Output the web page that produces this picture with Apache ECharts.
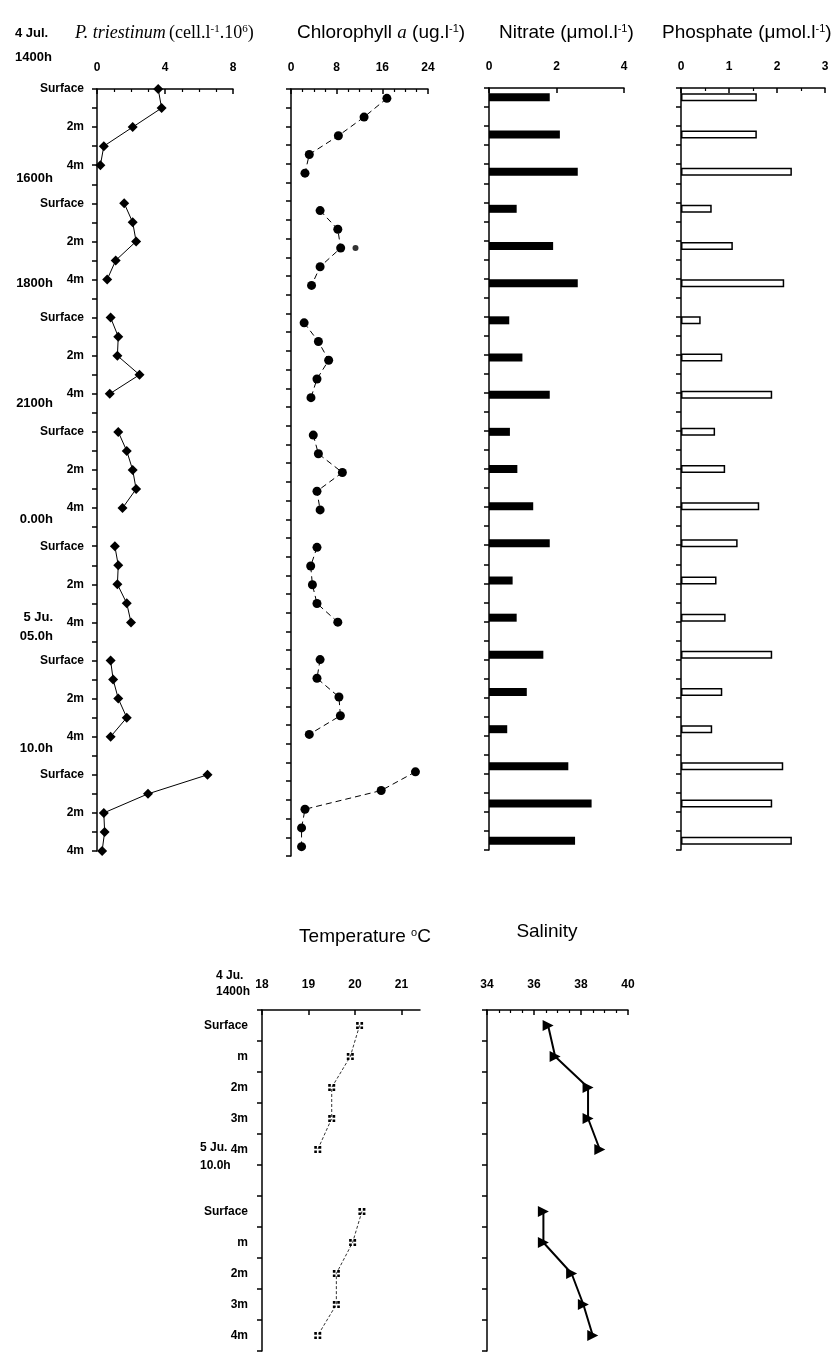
<!DOCTYPE html>
<html><head><meta charset="utf-8">
<script src="https://cdn.jsdelivr.net/npm/echarts@6/dist/echarts.min.js"></script>
<style>html,body{margin:0;padding:0;background:#fff}#c{width:833px;height:1352px}</style>
</head><body><div id="c"></div>
<script>
// ---------- DATA ----------
const depthLabelsTop = ['Surface', '', '2m', '', '4m'];
const depthLabelsBottom = ['Surface', 'm', '2m', '3m', '4m'];
const timeLabelsTop = ['1600h', '1800h', '2100h', '0.00h', '5 Ju.|05.0h', '10.0h'];
// 7 sampling times x 5 depths (Surface, 1m, 2m, 3m, 4m)
const pTriestinum = [3.6, 3.8, 2.1, 0.4, 0.2,
  1.6, 2.1, 2.3, 1.1, 0.6,
  0.8, 1.25, 1.2, 2.5, 0.75,
  1.25, 1.75, 2.1, 2.3, 1.5,
  1.05, 1.25, 1.2, 1.75, 2.0,
  0.8, 0.95, 1.25, 1.75, 0.8,
  6.5, 3.0, 0.4, 0.45, 0.3];
const chlorophyll = [16.8, 12.8, 8.3, 3.2, 2.45,
  5.1, 8.2, 8.7, 5.1, 3.6,
  2.3, 4.8, 6.6, 4.55, 3.5,
  3.9, 4.8, 9.0, 4.55, 5.1,
  4.55, 3.45, 3.75, 4.55, 8.2,
  5.1, 4.55, 8.4, 8.65, 3.2,
  21.8, 15.8, 2.45, 1.85, 1.85];
const chlorophyllExtra = [[11.3, 8]]; // small extra dot (value, slot)
// 7 sampling times x 3 depths (Surface, 2m, 4m)
const nitrate = [1.8, 2.1, 2.63,
  0.82, 1.9, 2.63,
  0.6, 0.99, 1.8,
  0.62, 0.84, 1.31,
  1.8, 0.7, 0.82,
  1.61, 1.12, 0.54,
  2.35, 3.04, 2.55];
const phosphate = [1.58, 1.58, 2.31,
  0.64, 1.08, 2.15,
  0.41, 0.86, 1.9,
  0.71, 0.92, 1.63,
  1.18, 0.74, 0.93,
  1.9, 0.86, 0.65,
  2.13, 1.9, 2.31];
// 2 sampling times x 5 depths
const temperature = [20.1, 19.9, 19.5, 19.5, 19.2,
  20.15, 19.95, 19.6, 19.6, 19.2];
const salinity = [36.6, 36.9, 38.3, 38.3, 38.8,
  36.4, 36.4, 37.6, 38.1, 38.5];

// ---------- BUILD ----------
const NG = 7, ND = 5;
const topLabels = [];
for (let g = 0; g < NG; g++) {
  for (let d = 0; d < ND; d++) topLabels.push(depthLabelsTop[d]);
  if (g < NG - 1) topLabels.push('');
}
const topCats = topLabels.map((_, i) => 'c' + i);
function expand5(arr, groups) {
  const out = [];
  for (let g = 0; g < groups; g++) {
    for (let d = 0; d < ND; d++) out.push(arr[g * ND + d]);
    if (g < groups - 1) out.push(null);
  }
  return out;
}
function expand3(arr) {
  const out = new Array(topCats.length).fill(null);
  for (let g = 0; g < NG; g++) for (let k = 0; k < 3; k++) out[g * 6 + k * 2] = arr[g * 3 + k];
  return out;
}
const botLabels = [...depthLabelsBottom, '', ...depthLabelsBottom];
const botCats = botLabels.map((_, i) => 'b' + i);

const FONT = '"Liberation Sans", Arial, sans-serif';
const black = '#000';
const axLine = { show: true, lineStyle: { color: black, width: 1.5 } };
const tickLbl = { color: black, fontWeight: 'bold', fontSize: 12, fontFamily: FONT };

function xAx(grid, min, max, interval, minorSplit, margin) {
  return {
    gridIndex: grid, type: 'value', position: 'top', min: min, max: max, interval: interval,
    axisLine: axLine, splitLine: { show: false },
    axisTick: { show: true, inside: true, length: 5, lineStyle: { color: black, width: 1.5 } },
    minorTick: { show: minorSplit > 0, splitNumber: minorSplit || 5, length: 3, lineStyle: { color: black, width: 1.2 } },
    axisLabel: Object.assign({ margin: margin || 15, showMaxLabel: (max - min) % interval === 0 ? null : false }, tickLbl)
  };
}
function yAx(grid, cats, labels, gap, show, labelMargin) {
  return {
    gridIndex: grid, type: 'category', inverse: true, boundaryGap: gap, data: cats, show: show !== false,
    axisLine: axLine,
    axisTick: { show: true, interval: 0, length: 5, lineStyle: { color: black, width: 1.5 } },
    axisLabel: labels ? Object.assign({ interval: 0, margin: labelMargin || 13, formatter: (v, i) => labels[i] }, tickLbl) : { show: false }
  };
}

const option = {
  animation: false,
  backgroundColor: '#fff',
  grid: [
    { left: 97, top: 89, width: 136, height: 762 },
    { left: 291, top: 89, width: 137, height: 767 },
    { left: 489, top: 88, width: 135, height: 762 },
    { left: 681, top: 88, width: 144, height: 762 },
    { left: 262, top: 1010, width: 158, height: 341 },
    { left: 487, top: 1010, width: 141, height: 341 }
  ],
  xAxis: [
    xAx(0, 0, 8, 4, 4),
    xAx(1, 0, 24, 8, 4),
    xAx(2, 0, 4, 2, 0),
    xAx(3, 0, 3, 1, 2),
    xAx(4, 18, 21.4, 1, 0, 19),
    xAx(5, 34, 40, 2, 4, 19)
  ],
  yAxis: [
    yAx(0, topCats, topLabels, false),
    yAx(1, topCats, null, true),
    yAx(2, topCats, null, false),
    yAx(2, topCats, null, true, false),
    yAx(3, topCats, null, false),
    yAx(3, topCats, null, true, false),
    yAx(4, botCats, botLabels, true, true, 14),
    yAx(5, botCats, null, true)
  ],
  series: [
    { type: 'line', xAxisIndex: 0, yAxisIndex: 0, data: expand5(pTriestinum, NG), connectNulls: false,
      symbol: 'diamond', symbolSize: 10, itemStyle: { color: black }, lineStyle: { color: black, width: 1 } },
    { type: 'line', xAxisIndex: 1, yAxisIndex: 1, data: expand5(chlorophyll, NG), connectNulls: false,
      symbol: 'circle', symbolSize: 9, itemStyle: { color: black }, lineStyle: { color: black, width: 1, type: [6, 4] } },
    { type: 'scatter', xAxisIndex: 1, yAxisIndex: 1, data: chlorophyllExtra, symbol: 'circle', symbolSize: 6, itemStyle: { color: black } },
    { type: 'bar', xAxisIndex: 2, yAxisIndex: 3, data: expand3(nitrate), barWidth: 8, itemStyle: { color: black } },
    { type: 'bar', xAxisIndex: 3, yAxisIndex: 5, data: expand3(phosphate), barWidth: 8,
      itemStyle: { color: '#fff', borderColor: black, borderWidth: 1.5 } },
    { type: 'line', xAxisIndex: 4, yAxisIndex: 6, data: expand5(temperature, 2), connectNulls: false,
      symbol: 'path://M0,0h3v3h-3z M5,0h3v3h-3z M0,5h3v3h-3z M5,5h3v3h-3z', symbolSize: 7,
      itemStyle: { color: black }, lineStyle: { color: '#333', width: 1, type: [3, 2] } },
    { type: 'line', xAxisIndex: 5, yAxisIndex: 7, data: expand5(salinity, 2), connectNulls: false,
      symbol: 'triangle', symbolRotate: -90, symbolSize: 11, itemStyle: { color: black }, lineStyle: { color: black, width: 2 } }
  ]
};

const chart = echarts.init(document.getElementById('c'));
chart.setOption(option);

// ---------- TEXT ANNOTATIONS ----------
const sans = FONT;
const txt = (x, y, text, extra) => ({ type: 'text', x: x, y: y, style: Object.assign({ text: text, fill: black, font: 'bold 13px ' + sans, textVerticalAlign: 'middle' }, extra || {}) });
const richTitle = (x, y, parts, align, size) => {
  const fs = size || 19, ss = Math.round(fs * 0.6);
  return { type: 'text', x: x, y: y, style: {
    text: parts, fill: black, textVerticalAlign: 'middle', textAlign: align || 'left',
    rich: {
      m: { fontSize: fs, fontFamily: sans, color: black },
      s: { fontSize: ss, fontFamily: sans, color: black, verticalAlign: 'top', padding: [0, 0, 8, 0] },
      i: { fontSize: fs, fontFamily: '"Liberation Serif", serif', fontStyle: 'italic', color: black },
      r: { fontSize: fs, fontFamily: '"Liberation Serif", serif', color: black },
      rs: { fontSize: ss, fontFamily: '"Liberation Serif", serif', color: black, verticalAlign: 'top', padding: [0, 0, 8, 0] }
    } } };
};

const py = i => chart.convertToPixel({ yAxisIndex: 0 }, i);
const step = py(1) - py(0);
const g = [];
g.push(richTitle(75, 33, '{i|P. triestinum} {r|(cell.l}{rs|-1}{r|.10}{rs|6}{r|)}', 'left', 18));
g.push(richTitle(297, 33, '{m|Chlorophyll }{i|a}{m| (ug.l}{s|-1}{m|)}'));
g.push(richTitle(499, 33, '{m|Nitrate (μmol.l}{s|-1}{m|)}'));
g.push(richTitle(662, 33, '{m|Phosphate (μmol.l}{s|-1}{m|)}'));
g.push(txt(15, 33, '4 Jul.'));
g.push(txt(15, 57, '1400h'));
const tOff = [0.7, 0.2, 0.5, 0.6, 0.2, 0.6];
timeLabelsTop.forEach((t, k) => {
  const y = py(6 * k + 4) + tOff[k] * step;
  const lines = t.split('|');
  if (lines.length === 1) g.push(txt(53, y, t, { textAlign: 'right' }));
  else { g.push(txt(53, y - 9, lines[0], { textAlign: 'right' })); g.push(txt(53, y + 10, lines[1], { textAlign: 'right' })); }
});
// bottom panel
const by = i => chart.convertToPixel({ yAxisIndex: 6 }, i);
g.push(richTitle(365, 937, '{m|Temperature }{s|o}{m|C}', 'center'));
g.push(richTitle(547, 932, '{m|Salinity}', 'center'));
g.push(txt(216, 976, '4 Ju.', { font: 'bold 12px ' + sans }));
g.push(txt(216, 992, '1400h', { font: 'bold 12px ' + sans }));
g.push(txt(200, by(4) - 2, '5 Ju.', { font: 'bold 12px ' + sans }));
g.push(txt(200, by(4) + 16, '10.0h', { font: 'bold 12px ' + sans }));
chart.setOption({ graphic: g });
</script>
</body></html>
